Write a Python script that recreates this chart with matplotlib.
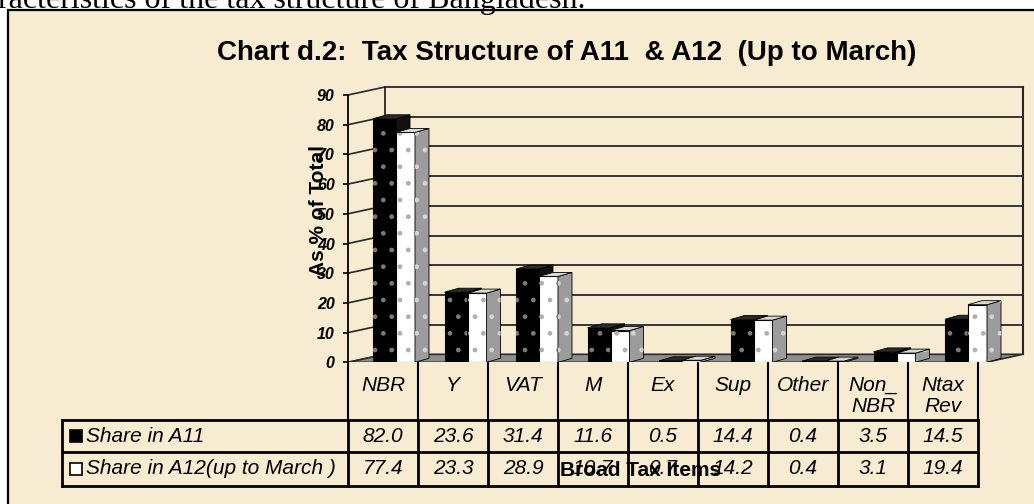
import matplotlib
matplotlib.use('Agg')
import matplotlib.pyplot as plt
from matplotlib.patches import Polygon, Rectangle
from matplotlib.transforms import blended_transform_factory
import numpy as np

# ---------------- data ----------------
categories = ['NBR', 'Y', 'VAT', 'M', 'Ex', 'Sup', 'Other', 'Non_\nNBR', 'Ntax\nRev']
share_a11 = [82.0, 23.6, 31.4, 11.6, 0.5, 14.4, 0.4, 3.5, 14.5]
share_a12 = [77.4, 23.3, 28.9, 10.7, 0.7, 14.2, 0.4, 3.1, 19.4]
series_labels = ['Share in A11', 'Share in A12(up to March )']
yticks = list(range(0, 91, 10))
title = 'Chart d.2:  Tax Structure of A11  & A12  (Up to March)'
xlabel = 'Broad Tax Items'
ylabel = 'As % of Total'
header_text = 'racteristics of the tax structure of Bangladesh.'

plt.rcParams['font.family'] = ['Liberation Sans', 'DejaVu Sans']

W, H, DPI = 1034, 504, 100
fig = plt.figure(figsize=(W / DPI, H / DPI), dpi=DPI)
fig.patch.set_facecolor('white')


def fx(px):
    return px / W


def fy(py):
    return 1 - py / H


BG = '#F7ECD2'
frame = Rectangle((fx(8), fy(600)), fx(1200), fy(10) - fy(600), transform=fig.transFigure,
                  facecolor=BG, edgecolor='black', lw=1.6, zorder=0)
fig.add_artist(frame)

# ---------------- axes geometry ----------------
PX_X = 70.0        # pixels per category
X0_PX = 348        # pixel of data x = -0.5
XR_PX = 1032
PY0 = 362.3        # pixel of y = 0
PPY = 2.97         # pixels per unit y
YTOP = 94
xmin = -0.5
xmax = xmin + (XR_PX - X0_PX) / PX_X
ax = fig.add_axes([fx(X0_PX), fy(PY0), (XR_PX - X0_PX) / W, YTOP * PPY / H])
ax.set_xlim(xmin, xmax)
ax.set_ylim(0, YTOP)
ax.patch.set_alpha(0)

DX = 37 / PX_X
DY = 8 / PPY
bx0 = xmin + DX
bx1 = xmin + (1023 - X0_PX) / PX_X
fr = bx1 - DX

# floor
ax.add_patch(Polygon([(xmin, 0), (fr, 0), (bx1, DY), (bx0, DY)], closed=True,
                     facecolor='#8e8e8e', edgecolor='#2a2a2a', lw=1.2, zorder=2))
# back wall grid + left wall stubs
for v in yticks:
    if v > 0:
        ax.plot([bx0, bx1], [v + DY, v + DY], color='#262626', lw=1.3, zorder=1)
    ax.plot([xmin, bx0], [v, v + DY], color='#262626', lw=1.2, zorder=1)
ax.plot([bx0, bx0], [DY, 90 + DY], color='#262626', lw=1.3, zorder=1)
ax.plot([bx1, bx1], [DY, 90 + DY], color='#262626', lw=1.5, zorder=1)

# ---------------- bars ----------------
n = len(categories)
x = np.arange(n)
shift = (-10 + 1.5 * x) / PX_X
bw1 = 23 / PX_X
bw2 = 19 / PX_X
bdx = 14 / PX_X
bdy = 4 / PPY
left1 = x + shift
left2 = left1 + bw1

ax.bar(left1, share_a11, width=bw1, align='edge', color='black', edgecolor='black', lw=0.8, zorder=3)
ax.bar(left1, share_a11, width=bw1, align='edge', facecolor='none', edgecolor='#7a7a7a',
       hatch='.', lw=0, zorder=3.05)
for l, v in zip(left1, share_a11):
    r = l + bw1
    ax.add_patch(Polygon([(r, 0), (r + bdx, bdy), (r + bdx, v + bdy), (r, v)],
                         facecolor='#111111', edgecolor='black', lw=0.6, zorder=3.2))
    ax.add_patch(Polygon([(l, v), (r, v), (r + bdx, v + bdy), (l + bdx, v + bdy)],
                         facecolor='#2a2a2a', edgecolor='black', lw=0.6, zorder=3.2))

ax.bar(left2, share_a12, width=bw2, align='edge', color='white', edgecolor='black', lw=0.8, zorder=4)
ax.bar(left2, share_a12, width=bw2, align='edge', facecolor='none', edgecolor='#b0b0b0',
       hatch='.', lw=0, zorder=4.05)
for l, v in zip(left2, share_a12):
    r = l + bw2
    side = [(r, 0), (r + bdx, bdy), (r + bdx, v + bdy), (r, v)]
    ax.add_patch(Polygon(side, facecolor='#9c9c9c', edgecolor='black', lw=0.6, zorder=4.2))
    ax.add_patch(Polygon(side, facecolor='none', edgecolor='#d4d4d4', lw=0, hatch='.',
                         zorder=4.25))
    ax.add_patch(Polygon([(l, v), (r, v), (r + bdx, v + bdy), (l + bdx, v + bdy)],
                         facecolor='#d8d8d8', edgecolor='black', lw=0.6, zorder=4.3))

# ---------------- axis styling ----------------
for s in ['top', 'right', 'bottom']:
    ax.spines[s].set_visible(False)
ax.spines['left'].set_bounds(0, 90)
ax.spines['left'].set_linewidth(1.3)
ax.set_yticks(yticks)
ax.set_xticks([])
ax.tick_params(axis='y', direction='out', length=3.6, width=1.2, pad=6.0, labelsize=11.5)
for lab in ax.get_yticklabels():
    lab.set_fontweight('bold')
    lab.set_fontstyle('italic')

# ---------------- category labels + data table ----------------
T = blended_transform_factory(ax.transData, fig.transFigure)
bounds = [xmin + k for k in range(n + 1)]
for b in bounds:
    ax.plot([b, b], [fy(362), fy(420)], transform=T, color='black', lw=1.5, clip_on=False)
for i, c in enumerate(categories):
    ax.text(i, fy(376), c, transform=T, ha='center', va='top', fontsize=15, style='italic',
            linespacing=1.15)

tab_left = xmin - (X0_PX - 62) / PX_X
tab_right = bounds[-1]
for yy in [420, 452, 486]:
    ax.plot([tab_left, tab_right], [fy(yy), fy(yy)], transform=T, color='black', lw=2,
            clip_on=False, solid_capstyle='projecting')
for b in [tab_left] + bounds:
    ax.plot([b, b], [fy(420), fy(486)], transform=T, color='black', lw=2, clip_on=False,
            solid_capstyle='projecting')

row_y = [436, 469]
for vals, yy in zip([share_a11, share_a12], row_y):
    for i, v in enumerate(vals):
        ax.text(i, fy(yy), f'{v:.1f}', transform=T, ha='center', va='center',
                fontsize=15, style='italic')

key_colors = ['black', 'white']
for lab, yy, kc in zip(series_labels, row_y, key_colors):
    fig.add_artist(Rectangle((fx(70), fy(yy + 6)), 12 / W, 12 / H, transform=fig.transFigure,
                             facecolor=kc, edgecolor='black', lw=1.2))
    fig.text(fx(86), fy(yy), lab, ha='left', va='center', fontsize=15, style='italic')

# ---------------- texts ----------------
fig.text(fx(217), fy(60), title, ha='left', va='baseline', fontsize=20, fontweight='bold')
fig.text(fx(641), fy(470), xlabel, ha='center', va='center', fontsize=15, fontweight='bold',
         zorder=10)
fig.text(fx(318), fy(210), ylabel, ha='center', va='center', rotation=90, fontsize=15,
         fontweight='bold', zorder=10)
fig.text(fx(-2), fy(8), header_text, ha='left', va='baseline', fontsize=23,
         family=['Liberation Serif'])

fig.savefig('out.png', dpi=DPI, facecolor=fig.get_facecolor())
